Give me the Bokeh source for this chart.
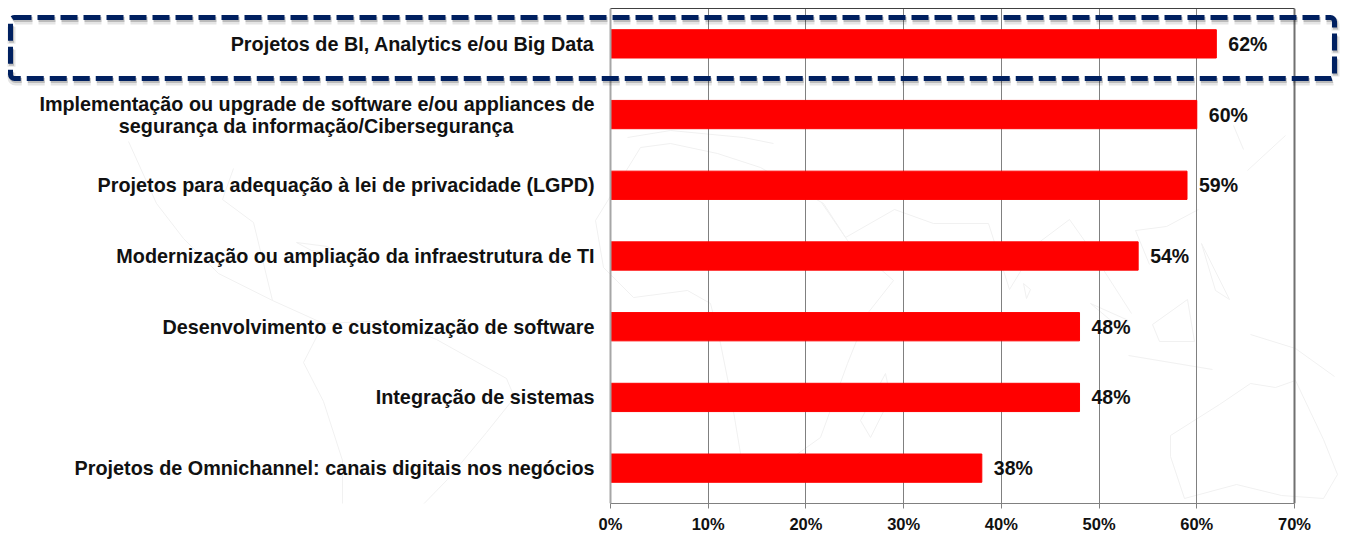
from bokeh.plotting import figure
from bokeh.models import Range1d, BoxAnnotation, FixedTicker, ColumnDataSource, LinearAxis, Span
from bokeh.core.properties import value
from bokeh.embed import file_html
from bokeh.resources import INLINE

categories = [
    "Projetos de BI, Analytics e/ou Big Data",
    "Implementação ou upgrade de software e/ou appliances de",
    "Projetos para adequação à lei de privacidade (LGPD)",
    "Modernização ou ampliação da infraestrutura de TI",
    "Desenvolvimento e customização de software",
    "Integração de sistemas",
    "Projetos de Omnichannel: canais digitais nos negócios",
]
second_line = "segurança da informação/Cibersegurança"
values = [62, 60, 59, 54, 48, 48, 38]
labels = ["62%", "60%", "59%", "54%", "48%", "48%", "38%"]
x_ticks = [0, 10, 20, 30, 40, 50, 60, 70]

# faint world-map watermark behind the chart, as page-pixel outlines
map_x = [
    [128, 156, 183, 218, 272, 323],
    [233, 222, 253, 272],
    [296, 327, 335, 311, 296],
    [323, 389, 436, 506, 514, 486, 447, 409, 381],
    [323, 303, 323, 342, 342],
    [640, 595, 603, 633, 687, 710, 720, 730, 740, 760, 820, 847, 867, 893, 847, 823, 760, 717, 670, 640],
    [860, 885, 890, 870, 860],
    [627, 670, 743, 773],
    [821, 845, 894, 933, 988, 1009, 1037, 1069, 1086, 1131],
    [1023, 1030, 1026, 1023],
    [1090, 1128, 1120, 1090],
    [1152, 1187, 1194, 1159, 1152],
    [1128, 1212],
    [1201, 1229, 1215, 1201],
    [1250, 1295, 1334],
    [1247, 1285],
    [1233, 1243],
    [1170, 1219, 1250, 1275, 1295, 1323, 1337, 1323, 1281, 1236, 1184, 1170, 1170],
    [1198, 1166, 1135, 1149],
]
map_y = [
    [141, 203, 238, 273, 300, 323],
    [168, 199, 222, 300],
    [242, 246, 253, 250, 242],
    [323, 320, 339, 378, 397, 432, 479, 518, 576],
    [323, 362, 401, 460, 537],
    [147, 220, 267, 297, 290, 303, 343, 393, 453, 480, 437, 363, 313, 280, 240, 203, 167, 153, 143, 147],
    [420, 373, 397, 437, 420],
    [137, 130, 137, 143],
    [202, 237, 209, 223, 223, 289, 243, 219, 243, 313],
    [283, 289, 298, 283],
    [303, 320, 328, 303],
    [324, 299, 341, 341, 324],
    [355, 369],
    [243, 299, 290, 243],
    [334, 348, 376],
    [170, 135],
    [125, 149],
    [435, 404, 383, 387, 380, 439, 474, 498, 495, 484, 498, 456, 435],
    [209, 226, 230, 264],
]

FONT = "Liberation Sans"
TEXT = "#111111"
GRID = "#808080"
LEFT, RIGHT, WIDTH = 610, 1294, 1347
PX = (RIGHT - LEFT) / 70   # pixels per percentage point
rows = [i + 0.5 for i in range(len(categories))]
src = ColumnDataSource(dict(row=rows, val=values, lab=labels))

p = figure(width=WIDTH, height=536, output_backend="svg", toolbar_location=None,
           x_range=Range1d(-LEFT / PX, (WIDTH - LEFT) / PX), y_range=Range1d(len(categories), 0),
           min_border_left=0, min_border_right=0, min_border_top=8, min_border_bottom=33,
           background_fill_color=None, border_fill_color="white", outline_line_color=None)

p.extra_x_ranges["px"] = Range1d(0, WIDTH)
p.extra_y_ranges["py"] = Range1d(503, 8)
p.multi_line(xs=map_x, ys=map_y, x_range_name="px", y_range_name="py", line_color="#f1f1f1",
             line_width=1, level="underlay")

p.hbar(y="row", right="val", left=0, height=0.4, source=src, color="#FF0000")
p.text(x="val", y="row", text="lab", source=src, x_offset=12, text_align="left",
       text_baseline="middle", text_font=value(FONT), text_font_style="bold",
       text_font_size="19.5px", text_color=TEXT)

# category labels, written in the frame so the highlight can span past the axis
single = [i for i in range(len(categories)) if i != 1]
lab_src = ColumnDataSource(dict(row=[rows[i] for i in single], zero=[0] * len(single),
                                txt=[categories[i] for i in single]))
cat_style = dict(text_baseline="middle", text_font=value(FONT), text_font_style="bold",
                 text_font_size="19.8px", text_color=TEXT, text_align="right")
p.text(x="zero", y="row", text="txt", source=lab_src, x_offset=-16, **cat_style)
p.text(x=[0], y=[rows[1]], text=[categories[1]], x_offset=-16, y_offset=-11, **cat_style)
p.text(x=[0], y=[rows[1]], text=[second_line], x_offset=-97, y_offset=11, **cat_style)

p.xgrid.ticker = FixedTicker(ticks=x_ticks)
p.xgrid.grid_line_color = GRID
p.ygrid.grid_line_color = None
p.yaxis.visible = False
p.add_layout(Span(location=x_ticks[0], dimension="height", line_color="#a6a6a6", line_width=2))
p.add_layout(Span(location=x_ticks[-1], dimension="height", line_color="#707070", line_width=2))

xa = p.xaxis[0]
xa.ticker = FixedTicker(ticks=x_ticks)
xa.bounds = (0, 70)
xa.major_label_overrides = {t: f"{t}%" for t in x_ticks}
xa.axis_line_color = GRID
xa.major_tick_line_color = GRID
xa.major_tick_out = 5
xa.major_tick_in = 0
xa.minor_tick_line_color = None
xa.major_label_standoff = 6
xa.major_label_text_font = FONT
xa.major_label_text_font_style = "bold"
xa.major_label_text_font_size = "16.5px"
xa.major_label_text_color = TEXT

top = LinearAxis(ticker=FixedTicker(ticks=[]), bounds=(0, 70), axis_line_color="#404040",
                 major_tick_line_color=None, minor_tick_line_color=None)
p.add_layout(top, "above")

# dashed highlight, with its soft shadow (screen units count up from the frame's bottom)
box = dict(left_units="screen", right_units="screen", top_units="screen", bottom_units="screen",
           fill_color=None, line_dash="17 6", border_radius=4)
p.add_layout(BoxAnnotation(left=11, right=1335, top=483, bottom=422, line_color="#000000",
                           line_alpha=0.10, line_width=8, **box))
p.add_layout(BoxAnnotation(left=11, right=1335, top=484, bottom=423, line_color="#000000",
                           line_alpha=0.18, line_width=5, **box))
p.add_layout(BoxAnnotation(left=10, right=1334, top=486, bottom=425, line_color="#002060",
                           line_alpha=1.0, line_width=5, **box))

open("out.html", "w").write(file_html(p, INLINE))
